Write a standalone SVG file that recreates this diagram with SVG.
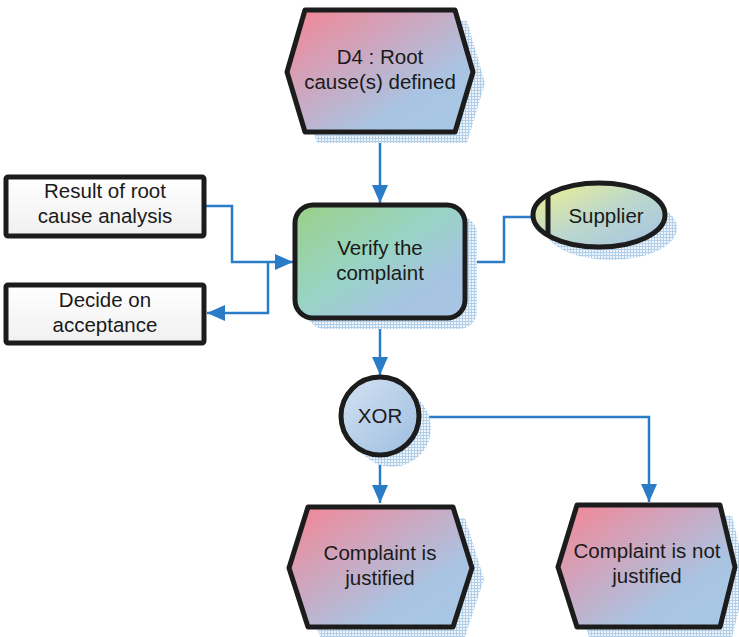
<svg xmlns="http://www.w3.org/2000/svg" width="739" height="637" viewBox="0 0 739 637">
  <style>
    .outline { stroke: #1c1c1c; stroke-width: 5; stroke-linejoin: round; }
    .shadow { fill: url(#hatch); }
    .label { font-family: "Liberation Sans", Arial, sans-serif; font-size: 20.5px; fill: #1a1a1a; text-anchor: middle; }
    .flow { fill: none; stroke: #2a7cc7; stroke-width: 2.5; }
  </style>
  <defs>
    <pattern id="hatch" width="3" height="3" patternUnits="userSpaceOnUse">
      <rect width="3" height="3" fill="#eef4fa"/>
      <path d="M0 0.5H3M0.5 0V3" stroke="#b2cfea" stroke-width="1"/>
    </pattern>
    <linearGradient id="eventFill" x1="0" y1="0" x2="1" y2="1">
      <stop offset="0" stop-color="#f48592"/>
      <stop offset="0.35" stop-color="#d0a4bc"/>
      <stop offset="0.7" stop-color="#a9c4e2"/>
      <stop offset="1" stop-color="#a6c8e6"/>
    </linearGradient>
    <linearGradient id="funcFill" x1="0" y1="0" x2="1" y2="1">
      <stop offset="0" stop-color="#9ccf88"/>
      <stop offset="0.45" stop-color="#98d4c4"/>
      <stop offset="0.75" stop-color="#a6c4e2"/>
      <stop offset="1" stop-color="#a8c4e4"/>
    </linearGradient>
    <linearGradient id="orgFill" x1="0" y1="0" x2="1" y2="1">
      <stop offset="0" stop-color="#f2f08e"/>
      <stop offset="0.5" stop-color="#bcd8cc"/>
      <stop offset="1" stop-color="#a4c2e6"/>
    </linearGradient>
    <linearGradient id="opFill" x1="0" y1="0" x2="1" y2="1">
      <stop offset="0" stop-color="#d4e2f2"/>
      <stop offset="1" stop-color="#9dbde0"/>
    </linearGradient>
    <linearGradient id="infoFill" x1="0" y1="0" x2="0" y2="1">
      <stop offset="0" stop-color="#ffffff"/>
      <stop offset="1" stop-color="#f0f0f0"/>
    </linearGradient>
    <marker id="head" markerWidth="18" markerHeight="16" refX="18" refY="8" orient="auto" markerUnits="userSpaceOnUse">
      <path d="M0 0L18 8L0 16Z" fill="#2a7cc7"/>
    </marker>
  </defs>

  <!-- connectors -->
  <g id="connectors">
    <path class="flow" d="M380 134V203" marker-end="url(#head)"/>
    <path class="flow" d="M204 206H232V262H293" marker-end="url(#head)"/>
    <path class="flow" d="M268 262V313H207" marker-end="url(#head)"/>
    <path class="flow" d="M465 262H504V217H533"/>
    <path class="flow" d="M380 320V375" marker-end="url(#head)"/>
    <path class="flow" d="M380 457V503" marker-end="url(#head)"/>
    <path class="flow" d="M420 417H649V502" marker-end="url(#head)"/>
  </g>

  <!-- event: D4 -->
  <g id="event-d4">
    <polygon class="shadow" points="317,21 467,21 485,83 467,143 317,143 299,83"/>
    <polygon class="outline" fill="url(#eventFill)" points="305,10 455,10 473,72 455,132 305,132 287,72"/>
    <text class="label" x="380" y="64">D4 : Root</text>
    <text class="label" x="380" y="89">cause(s) defined</text>
  </g>

  <!-- function: verify -->
  <g id="func-verify">
    <rect class="shadow" x="307" y="216" width="170" height="113" rx="18"/>
    <rect class="outline" fill="url(#funcFill)" x="295" y="205" width="170" height="113" rx="18"/>
    <text class="label" x="380" y="255">Verify the</text>
    <text class="label" x="380" y="280">complaint</text>
  </g>

  <!-- information: root cause analysis result -->
  <g id="info-result">
    <rect class="outline" fill="url(#infoFill)" x="6" y="177" width="198" height="59" rx="2"/>
    <text class="label" x="105" y="198">Result of root</text>
    <text class="label" x="105" y="223">cause analysis</text>
  </g>

  <!-- information: decide on acceptance -->
  <g id="info-decide">
    <rect class="outline" fill="url(#infoFill)" x="6" y="285" width="198" height="58" rx="2"/>
    <text class="label" x="105" y="307">Decide on</text>
    <text class="label" x="105" y="332">acceptance</text>
  </g>

  <!-- organisational unit: supplier -->
  <g id="org-supplier">
    <ellipse class="shadow" cx="611" cy="228" rx="66" ry="32"/>
    <ellipse class="outline" fill="url(#orgFill)" cx="599" cy="215" rx="66" ry="32"/>
    <line class="outline" x1="548" y1="196" x2="548" y2="234"/>
    <text class="label" x="606" y="223">Supplier</text>
  </g>

  <!-- operator: XOR -->
  <g id="op-xor">
    <circle class="shadow" cx="392" cy="428" r="39"/>
    <circle class="outline" fill="url(#opFill)" cx="380" cy="416" r="39"/>
    <text class="label" x="380" y="423">XOR</text>
  </g>

  <!-- event: justified -->
  <g id="event-justified">
    <polygon class="shadow" points="320,518 465,518 484,579 465,637 320,637 301,579"/>
    <polygon class="outline" fill="url(#eventFill)" points="308,507 453,507 472,568 453,627 308,627 289,568"/>
    <text class="label" x="380" y="560">Complaint is</text>
    <text class="label" x="380" y="585">justified</text>
  </g>

  <!-- event: not justified -->
  <g id="event-not-justified">
    <polygon class="shadow" points="589,516 732,516 747,578 732,637 589,637 570,578"/>
    <polygon class="outline" fill="url(#eventFill)" points="577,505 720,505 735,567 720,627 577,627 558,567"/>
    <text class="label" x="647" y="558">Complaint is not</text>
    <text class="label" x="647" y="583">justified</text>
  </g>
</svg>
